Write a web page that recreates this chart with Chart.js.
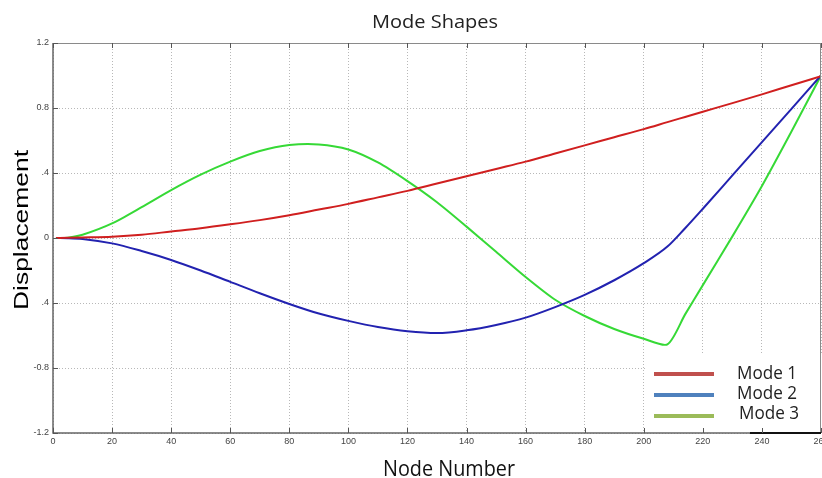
<!DOCTYPE html>
<html>
<head>
<meta charset="utf-8">
<title>Mode Shapes</title>
<script src="https://cdn.jsdelivr.net/npm/chart.js@4"></script>
<style>
  html, body { margin: 0; padding: 0; background: #fff; overflow: hidden; }
  #wrap { width: 850px; height: 478px; }
</style>
</head>
<body>
<div id="wrap"><canvas id="c" width="850" height="478"></canvas></div>
<script>
/* данные */
const nodes = [1, 5, 10, 20, 30, 40, 50, 60, 70, 80, 90, 100, 110, 120, 130, 140, 150,
               160, 170, 180, 190, 200, 208, 214, 220, 230, 240, 250, 260];
const mode1 = [0, 0.001, 0.003, 0.008, 0.02, 0.04, 0.06, 0.084, 0.11, 0.14, 0.175, 0.21, 0.25,
               0.29, 0.335, 0.38, 0.425, 0.47, 0.52, 0.57, 0.62, 0.67, 0.713, 0.745, 0.777, 0.83,
               0.884, 0.94, 0.995];
const mode2 = [0, -0.001, -0.006, -0.033, -0.08, -0.135, -0.2, -0.27, -0.34, -0.406, -0.465,
               -0.51, -0.548, -0.574, -0.585, -0.568, -0.535, -0.49, -0.425, -0.35, -0.26,
               -0.155, -0.053, 0.06, 0.18, 0.385, 0.59, 0.795, 1.0];
const mode3 = [0, 0.002, 0.02, 0.09, 0.19, 0.295, 0.39, 0.47, 0.535, 0.572, 0.576, 0.545, 0.465,
               0.35, 0.22, 0.07, -0.085, -0.24, -0.38, -0.48, -0.56, -0.62, -0.655, -0.47,
               -0.29, 0.01, 0.32, 0.655, 1.0];

const seriesNames  = ['Mode 1', 'Mode 2', 'Mode 3'];
const lineColors   = ['#d01f1f', '#2222b0', '#36d936'];
const legendColors = ['#c0504d', '#4f81bd', '#9bbb59'];
const yTickLabels  = ['-1.2', '-0.8', '.4', '0', '.4', '0.8', '1.2'];

const toPts = ys => nodes.map((x, i) => ({ x, y: ys[i] }));

/* текст, растянутый/сжатый под нужную ширину */
function fitText(ctx, text, x, y, w, font, color, angle, align) {
  ctx.save();
  ctx.font = font;
  ctx.fillStyle = color;
  ctx.translate(x, y);
  if (angle) ctx.rotate(angle);
  ctx.scale(w / ctx.measureText(text).width, 1);
  ctx.textAlign = align || 'center';
  ctx.textBaseline = 'alphabetic';
  ctx.fillText(text, 0, 0);
  ctx.restore();
}

/* рамка, внутренние засечки, подписи и легенда */
const decor = {
  id: 'decor',
  beforeDatasetsDraw(chart) {
    const ctx = chart.ctx;
    ctx.save();
    ctx.fillStyle = '#fff';
    ctx.fillRect(646, 353, 204, 79);
    ctx.restore();
  },
  afterDraw(chart) {
    const { ctx, chartArea: a, scales: { x, y } } = chart;
    ctx.save();
    // верх и право — светлее
    ctx.strokeStyle = '#8a8a8a';
    ctx.lineWidth = 1;
    ctx.beginPath();
    ctx.moveTo(a.left, a.top + 0.5); ctx.lineTo(a.right, a.top + 0.5);
    ctx.moveTo(a.right - 0.5, a.top); ctx.lineTo(a.right - 0.5, a.bottom);
    ctx.stroke();
    // оси
    ctx.strokeStyle = '#666';
    ctx.lineWidth = 1.5;
    ctx.beginPath();
    ctx.moveTo(a.left, a.top); ctx.lineTo(a.left, a.bottom);
    ctx.lineTo(a.right, a.bottom);
    ctx.stroke();
    // тёмный кусок нижней оси справа, как на исходнике
    ctx.strokeStyle = '#111';
    ctx.lineWidth = 2;
    ctx.beginPath();
    ctx.moveTo(750, a.bottom); ctx.lineTo(a.right, a.bottom);
    ctx.stroke();
    // засечки внутрь
    ctx.lineWidth = 1;
    ctx.strokeStyle = '#555';
    ctx.beginPath();
    x.ticks.forEach(t => {
      const px = Math.round(x.getPixelForValue(t.value)) + 0.5;
      ctx.moveTo(px, a.bottom); ctx.lineTo(px, a.bottom - 5);
      ctx.moveTo(px, a.top); ctx.lineTo(px, a.top + 5);
    });
    y.ticks.forEach(t => {
      const py = Math.round(y.getPixelForValue(t.value)) + 0.5;
      ctx.moveTo(a.left, py); ctx.lineTo(a.left + 5, py);
    });
    ctx.stroke();
    ctx.restore();

    fitText(ctx, 'Mode Shapes', 435, 28, 126, '18px "Open Sans"', '#222');
    fitText(ctx, 'Node Number', 449, 476, 132, '22px "Open Sans"', '#111');
    fitText(ctx, 'Displacement', 28, 230, 160, '21px "Liberation Sans"', '#000', -Math.PI / 2);

    // легенда
    const lineY = [374, 395, 416];
    const textY = [379, 399, 419];
    const textX = [737, 737, 739];
    seriesNames.forEach((name, i) => {
      ctx.save();
      ctx.strokeStyle = legendColors[i];
      ctx.lineWidth = 4;
      ctx.lineCap = 'butt';
      ctx.beginPath();
      ctx.moveTo(654, lineY[i]); ctx.lineTo(714, lineY[i]);
      ctx.stroke();
      ctx.restore();
      fitText(ctx, name, textX[i], textY[i], 60, '19px "Open Sans"', '#222', 0, 'left');
    });
  }
};

const tickFont = { family: '"Liberation Sans", Arial, sans-serif', size: 9 };

new Chart(document.getElementById('c'), {
  type: 'line',
  data: {
    datasets: [mode1, mode2, mode3].map((ys, i) => ({
      label: seriesNames[i],
      data: toPts(ys),
      borderColor: lineColors[i],
      borderWidth: 2,
      pointRadius: 0,
      fill: false,
      // у третьей формы острый минимум — обычная кривая без выравнивания
      cubicInterpolationMode: i === 2 ? 'default' : 'monotone',
      tension: 0.25
    }))
  },
  options: {
    responsive: false,
    animation: false,
    devicePixelRatio: 1,
    layout: { padding: { top: 43, right: 29, bottom: 0, left: 0 } },
    plugins: {
      legend: { display: false },
      title: { display: false },
      tooltip: { enabled: false }
    },
    scales: {
      x: {
        type: 'linear',
        min: 0, max: 260,
        afterFit: s => { s.height = 45; },
        ticks: { stepSize: 20, font: tickFont, color: '#444', padding: 3, maxRotation: 0 },
        grid: { color: '#b8b8b8', lineWidth: 1, drawTicks: false },
        border: { display: false, dash: [1, 2] }
      },
      y: {
        min: -1.2, max: 1.2,
        afterFit: s => { s.width = 53; },
        ticks: {
          stepSize: 0.4, font: tickFont, color: '#444', padding: 4,
          callback: (v, i) => yTickLabels[i]
        },
        grid: { color: '#b8b8b8', lineWidth: 1, drawTicks: false },
        border: { display: false, dash: [1, 2] }
      }
    }
  },
  plugins: [decor]
});
</script>
</body>
</html>
